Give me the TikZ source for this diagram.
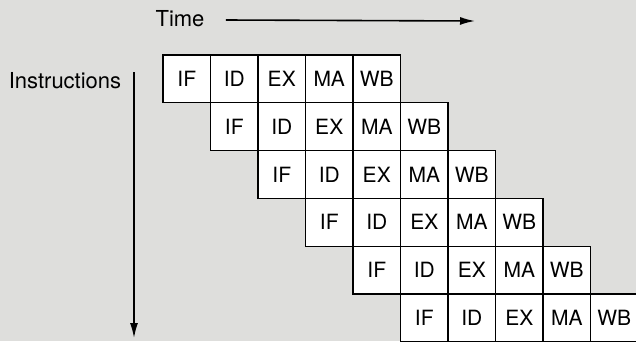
\documentclass[tikz,border=0pt]{standalone}
\usepackage{fontspec}
\setmainfont{TeX Gyre Heros}
\usepackage{tikz}
\usetikzlibrary{positioning,arrows.meta}

\definecolor{paper}{RGB}{222,222,220}

\begin{document}
\begin{tikzpicture}[
x=1pt,y=-1pt,
stage/.style={
  draw,
  fill=white,
  line width=1.3pt,
  minimum width=47.5pt,
  minimum height=47.8pt,
  inner sep=0pt,
  font=\fontsize{21}{21}\selectfont},
axislabel/.style={
  font=\fontsize{22}{22}\selectfont},
axisarrow/.style={
  line width=1.6pt,
  -{Latex[length=15pt,width=8pt]}}
]
\fill[paper] (0,0) rectangle (636,341);
\useasboundingbox (0,0) rectangle (636,341);
% pipeline cells: row \r, stage \s
\foreach \r in {0,...,5}
  \foreach \Stage [count=\s from 0] in {IF,ID,EX,MA,WB}
    \node[stage] (c\r\s) at ({163+23.75+(\r+\s)*47.5},{55+23.9+\r*47.8}) {\Stage};
% axes
\node[axislabel] (time) at (180,19) {Time};
\coordinate (tend) at (475,21);
\draw[axisarrow] ([xshift=18pt,yshift=-1pt]time.east) -- (tend);
\node[axislabel] (instr) at (65,81) {Instructions};
\coordinate (itop) at (134,72);
\coordinate (iend) at (134,338);
\draw[axisarrow] (itop) -- (iend);
\end{tikzpicture}
\end{document}
